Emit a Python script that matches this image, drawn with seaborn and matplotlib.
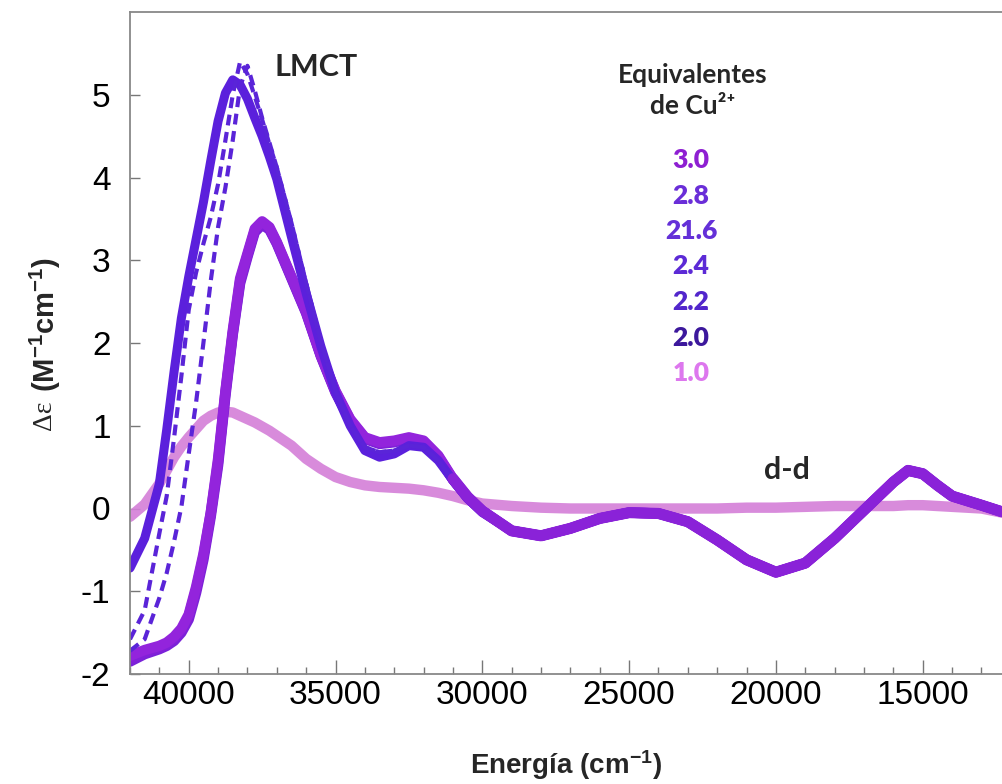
import matplotlib
matplotlib.use("Agg")
import matplotlib.pyplot as plt
from matplotlib.ticker import MultipleLocator
import seaborn as sns
import numpy as np

# energy grid (cm-1) used for all spectra
energy = [42000, 41500, 41000, 40750, 40500, 40250, 40000, 39750, 39500, 39250,
          39000, 38750, 38500, 38250, 38000, 37750, 37500, 37250, 37000, 36500,
          36000, 35500, 35000, 34500, 34000, 33500, 33000, 32500, 32000, 31500,
          31000, 30500, 30000, 29000, 28000, 27000, 26000, 25000, 24000, 23000,
          22000, 21000, 20000, 19000, 18000, 17000, 16000, 15500, 15000, 14500,
          14000, 13000, 12300]

# d-d region shared by every spectrum from 2.0 eq. up (29000 -> 12300)
dd_tail = [-0.27, -0.33, -0.24, -0.12, -0.05, -0.06, -0.16, -0.38, -0.62, -0.77,
           -0.66, -0.36, -0.02, 0.32, 0.46, 0.42, 0.28, 0.15, 0.04, -0.04]

eq_1_0 = [-0.10, 0.05, 0.30, 0.46, 0.62, 0.75, 0.86, 0.96, 1.06, 1.12,
          1.16, 1.17, 1.16, 1.12, 1.08, 1.04, 0.99, 0.94, 0.88, 0.76,
          0.60, 0.48, 0.38, 0.32, 0.28, 0.26, 0.25, 0.24, 0.22, 0.19,
          0.15, 0.10, 0.06, 0.03, 0.01, 0.00, 0.00, 0.00, 0.00, 0.00,
          0.00, 0.01, 0.01, 0.02, 0.03, 0.03, 0.03, 0.04, 0.04, 0.03,
          0.02, 0.00, -0.05]

eq_2_0 = [-0.72, -0.36, 0.30, 0.95, 1.65, 2.30, 2.80, 3.25, 3.70, 4.20,
          4.68, 5.02, 5.18, 5.12, 4.95, 4.72, 4.50, 4.25, 3.98, 3.28,
          2.60, 1.96, 1.40, 1.00, 0.70, 0.62, 0.66, 0.76, 0.74, 0.58,
          0.34, 0.12, -0.05] + dd_tail

eq_2_2 = [-1.58, -1.23, -0.30, 0.15, 0.85, 1.60, 2.40, 2.85, 3.20, 3.52,
          3.92, 4.45, 5.00, 5.40, 5.25, 4.98, 4.70, 4.40, 4.12, 3.45,
          2.72, 2.02, 1.42, 1.00, 0.74, 0.68, 0.70, 0.76, 0.74, 0.58,
          0.34, 0.12, -0.04] + dd_tail

eq_2_4 = [-1.72, -1.58, -1.08, -0.78, -0.40, 0.02, 0.66, 1.28, 2.00, 2.75,
          3.40, 3.88, 4.45, 5.10, 5.35, 5.05, 4.72, 4.42, 4.12, 3.45,
          2.72, 2.02, 1.42, 1.00, 0.74, 0.68, 0.70, 0.76, 0.74, 0.58,
          0.34, 0.12, -0.04] + dd_tail

eq_2_6 = [-1.85, -1.76, -1.70, -1.66, -1.60, -1.50, -1.34, -1.02, -0.62, -0.10,
          0.52, 1.36, 2.10, 2.72, 3.04, 3.34, 3.43, 3.37, 3.20, 2.78,
          2.36, 1.84, 1.40, 1.06, 0.84, 0.78, 0.80, 0.84, 0.80, 0.62,
          0.35, 0.13, -0.03] + dd_tail

eq_2_8 = [-1.82, -1.74, -1.68, -1.64, -1.57, -1.47, -1.30, -0.98, -0.58, -0.06,
          0.56, 1.40, 2.12, 2.75, 3.06, 3.36, 3.45, 3.38, 3.21, 2.79,
          2.37, 1.85, 1.41, 1.07, 0.85, 0.79, 0.81, 0.85, 0.81, 0.63,
          0.35, 0.13, -0.03] + dd_tail

eq_3_0 = [-1.78, -1.71, -1.66, -1.62, -1.55, -1.45, -1.28, -0.95, -0.55, -0.05,
          0.60, 1.42, 2.15, 2.78, 3.08, 3.38, 3.47, 3.40, 3.22, 2.80,
          2.38, 1.85, 1.42, 1.08, 0.86, 0.80, 0.82, 0.86, 0.82, 0.64,
          0.36, 0.14, -0.03] + dd_tail

legend_labels = ["3.0", "2.8", "21.6", "2.4", "2.2", "2.0", "1.0"]
legend_colors = ["#8e1fd2", "#6a2ed8", "#6430d8", "#5c2ad6", "#5226cc", "#3c189c", "#dd77ee"]

sns.set_theme(style="ticks")
plt.rcParams["font.family"] = ["Liberation Sans", "DejaVu Sans"]
plt.rcParams["mathtext.fontset"] = "custom"
plt.rcParams["mathtext.rm"] = "Liberation Sans"
plt.rcParams["mathtext.bf"] = "Liberation Sans:bold"
plt.rcParams["mathtext.it"] = "Liberation Sans:italic"
plt.rcParams["axes.unicode_minus"] = False

fig = plt.figure(figsize=(10.02, 7.84), dpi=100)
ax = fig.add_axes([130 / 1002, 1 - 674 / 784, 872 / 1002, 662 / 784])

line_kw = dict(ax=ax, estimator=None, sort=False)

# pink 1.0 eq first (underneath)
sns.lineplot(x=energy, y=eq_1_0, color="#d47fd8", lw=7.5, alpha=0.9, **line_kw)
# purple family
for vals, col in [(eq_2_6, "#7a22d8"), (eq_2_8, "#8220d8"), (eq_3_0, "#9324dc")]:
    sns.lineplot(x=energy, y=vals, color=col, lw=7.5, **line_kw)
sns.lineplot(x=energy, y=eq_2_0, color="#5b20dc", lw=6.5, **line_kw)
for vals in [eq_2_2, eq_2_4]:
    sns.lineplot(x=energy, y=vals, color="#5a24d8", lw=3, linestyle=(0, (2.6, 1.6)), **line_kw)
# purple band again on top in the d-d region
sns.lineplot(x=energy[30:], y=eq_3_0[30:], color="#8a22d8", lw=8, **line_kw)
for ln in ax.get_lines():
    ln.set_solid_joinstyle("round")
    ln.set_solid_capstyle("round")

ax.set_xlim(42000, 12300)
ax.set_ylim(-2, 6)
ax.set_yticks(range(-2, 6))
ax.xaxis.set_major_locator(MultipleLocator(5000))
ax.xaxis.set_minor_locator(MultipleLocator(1000))
ax.set_xticks([40000, 35000, 30000, 25000, 20000, 15000])
ax.tick_params(axis="x", which="major", direction="in", length=10, width=1,
               color="#777777", labelsize=24, labelcolor="black", pad=4)
ax.tick_params(axis="x", which="minor", direction="in", length=5, width=1, color="#777777")
ax.tick_params(axis="y", direction="in", length=7, width=1, color="#777777",
               labelsize=24, labelcolor="black", pad=14)
for s in ["left", "bottom", "top"]:
    ax.spines[s].set_color("#888888")
    ax.spines[s].set_linewidth(1.3)
ax.spines["right"].set_visible(False)
ax.set_xlabel("")
ax.set_ylabel("")

fig.text(566 / 1002, 1 - 765 / 784, r"Energía (cm$^{\mathbf{-1}}$)", ha="center",
         va="center", fontsize=20, fontweight="bold")
fig.text(45 / 1002, 1 - 392 / 784, r"(M$^{\mathbf{-1}}$cm$^{\mathbf{-1}}$)", rotation=90,
         ha="center", va="bottom", fontsize=21, fontweight="bold")
fig.text(45 / 1002, 1 - 430 / 784, "Δε", rotation=90, ha="center", va="bottom",
         fontsize=20, family="Liberation Serif")

# band annotations (in data coordinates)
ax.text(35670, 5.33, "LMCT", fontsize=22, fontweight="bold", family="Lato",
        ha="center", va="center")
ax.text(19610, 0.46, "d-d", fontsize=22, fontweight="bold", family="Lato",
        ha="center", va="center")

fig.text(693 / 1002, 1 - 75 / 784, "Equivalentes", fontsize=19, fontweight="bold",
         family="Lato", ha="center", va="center")
fig.text(693 / 1002, 1 - 106 / 784, "de Cu²⁺", fontsize=19, fontweight="bold",
         family=["Lato", "DejaVu Sans"], ha="center", va="center")
for i, (lab, col) in enumerate(zip(legend_labels, legend_colors)):
    fig.text(691 / 1002, 1 - (160 + 35.5 * i) / 784, lab, color=col, fontsize=19,
             fontweight="heavy", family="Lato", ha="center", va="center")

fig.savefig("out.png", dpi=100)
